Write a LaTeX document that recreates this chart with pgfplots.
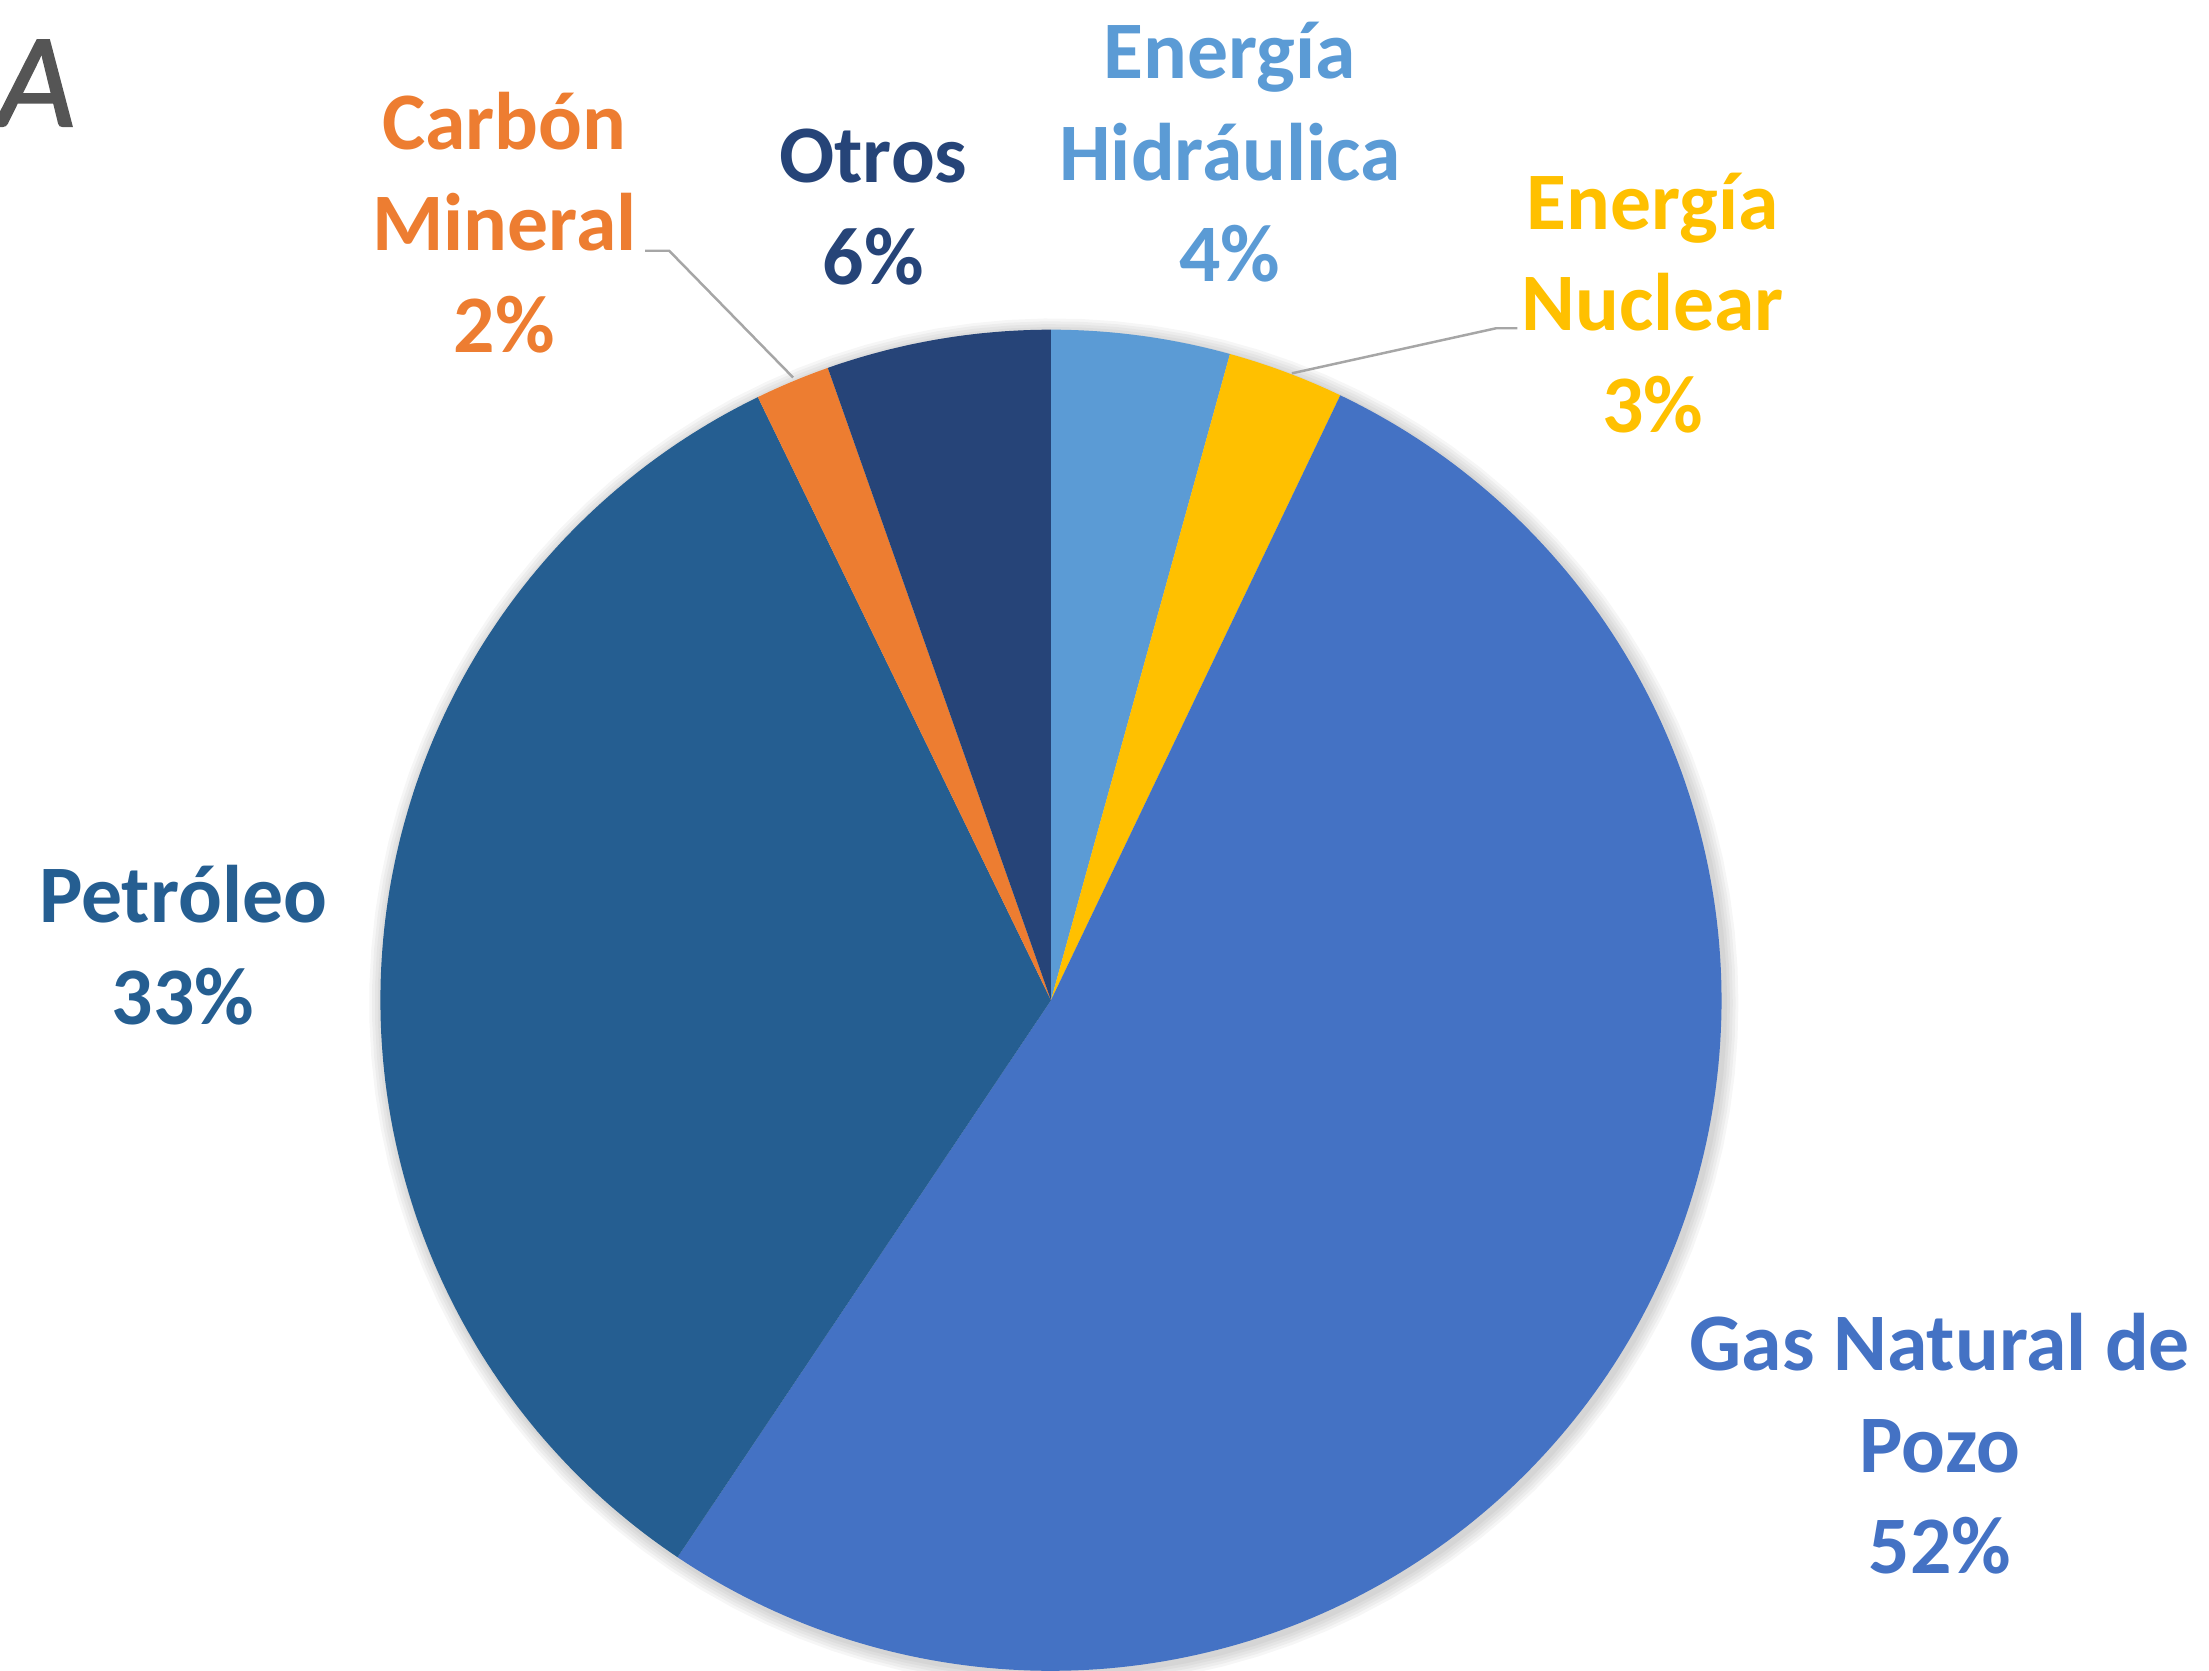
\documentclass[border=0pt]{standalone}
\usepackage{pgfplots}
\pgfplotsset{compat=1.18}
\usepackage{fontspec}
\setmainfont{Carlito}
\newfontfamily\titlefont[FakeBold=1.6]{Carlito}

\definecolor{cGas}{HTML}{4472C4}
\definecolor{cPet}{HTML}{255E91}
\definecolor{cCar}{HTML}{ED7D31}
\definecolor{cOtr}{HTML}{264478}
\definecolor{cHid}{HTML}{5B9BD5}
\definecolor{cNuc}{HTML}{FFC000}
\definecolor{cTit}{HTML}{555555}

% shares in percent, clockwise from 12 o'clock
\def\vHid{4.3}
\def\vNuc{2.8}
\def\vGas{52.3}
\def\vPet{33.4}
\def\vCar{1.8}
\def\vOtr{5.4}

% pie centre and radius in axis units (1 unit = 0.1 mm)
\def\cx{746}
\def\cy{476}
\def\rr{476}

\pgfmathsetmacro\aA{90}
\pgfmathsetmacro\aB{\aA-3.6*\vHid}
\pgfmathsetmacro\aC{\aB-3.6*\vNuc}
\pgfmathsetmacro\aD{\aC-3.6*\vGas}
\pgfmathsetmacro\aE{\aD-3.6*\vPet}
\pgfmathsetmacro\aF{\aE-3.6*\vCar}
\pgfmathsetmacro\aG{\aF-3.6*\vOtr}

\newcommand\lbl{\fontsize{16.5}{20.5}\selectfont\bfseries}

\begin{document}
\begin{tikzpicture}
\path[use as bounding box] (0,0) rectangle (15.68cm,11.86cm);
\clip (0,0) rectangle (15.68cm,11.86cm);
\begin{axis}[
  scale only axis,
  width=15.68cm, height=11.86cm,
  xmin=0, xmax=1568, ymin=0, ymax=1186,
  hide axis, clip=false,
]
% soft shadow round the pie
\foreach \d in {2,4,6,8,10}{
  \addplot[draw=none, fill=black, fill opacity=0.035, domain=0:360, samples=120]
    ({\cx+2+(\rr+\d)*cos(x)},{\cy-2+(\rr+\d)*sin(x)}) -- cycle;
}
% slices
\addplot[draw=none, fill=cHid, domain=\aB:\aA, samples=40]
  ({\cx+\rr*cos(x)},{\cy+\rr*sin(x)}) -- (axis cs:\cx,\cy) -- cycle;
\addplot[draw=none, fill=cNuc, domain=\aC:\aB, samples=30]
  ({\cx+\rr*cos(x)},{\cy+\rr*sin(x)}) -- (axis cs:\cx,\cy) -- cycle;
\addplot[draw=none, fill=cGas, domain=\aD:\aC, samples=200]
  ({\cx+\rr*cos(x)},{\cy+\rr*sin(x)}) -- (axis cs:\cx,\cy) -- cycle;
\addplot[draw=none, fill=cPet, domain=\aE:\aD, samples=150]
  ({\cx+\rr*cos(x)},{\cy+\rr*sin(x)}) -- (axis cs:\cx,\cy) -- cycle;
\addplot[draw=none, fill=cCar, domain=\aF:\aE, samples=20]
  ({\cx+\rr*cos(x)},{\cy+\rr*sin(x)}) -- (axis cs:\cx,\cy) -- cycle;
\addplot[draw=none, fill=cOtr, domain=\aG:\aF, samples=30]
  ({\cx+\rr*cos(x)},{\cy+\rr*sin(x)}) -- (axis cs:\cx,\cy) -- cycle;

% leader lines
\addplot[gray!70, line width=0.5pt] coordinates {(458,1008) (475,1008) (563,918)};
\addplot[gray!70, line width=0.5pt] coordinates {(1077,953) (1062,953) (917,921)};

% data labels
\node[align=center, text=cCar, font=\lbl] at (axis cs:358,1028) {Carbón\\Mineral\\2\%};
\node[align=center, text=cOtr, font=\lbl] at (axis cs:620,1039) {Otros\\6\%};
\node[align=center, text=cHid, font=\lbl] at (axis cs:873,1078) {Energía\\Hidráulica\\4\%};
\node[align=center, text=cNuc, font=\lbl] at (axis cs:1173,971) {Energía\\Nuclear\\3\%};
\node[align=center, text=cPet, font=\lbl] at (axis cs:130,515) {Petróleo\\33\%};
\node[align=center, text=cGas, font=\lbl] at (axis cs:1377,161) {Gas Natural de\\Pozo\\52\%};

% title fragment at the top-left edge
\node[anchor=east, text=cTit, font=\titlefont\fontsize{27}{30}\selectfont\itshape, inner sep=0pt]
  at (axis cs:54,1127) {A};
\end{axis}
\end{tikzpicture}
\end{document}
